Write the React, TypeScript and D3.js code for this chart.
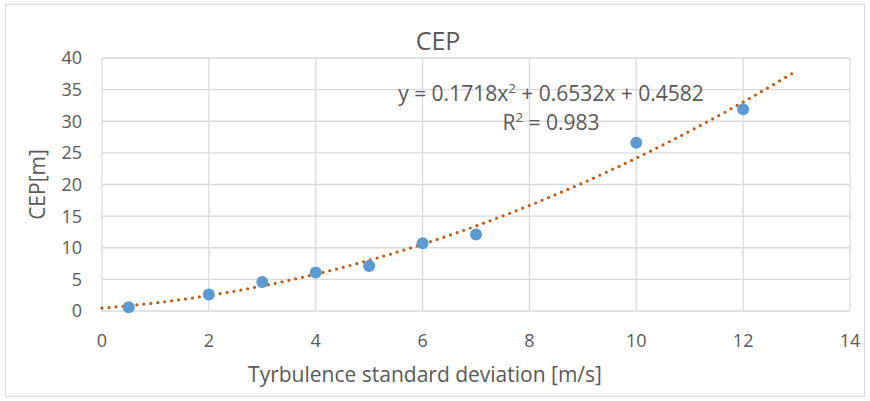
import React from "react";
import * as d3 from "d3";

const xValues = [0.5, 2, 3, 4, 5, 6, 7, 10, 12];
const yValues = [0.6, 2.6, 4.6, 6.1, 7.1, 10.7, 12.1, 26.6, 31.9];
const coeffs = [0.1718, 0.6532, 0.4582];
const xTicks = [0, 2, 4, 6, 8, 10, 12, 14];
const yTicks = [0, 5, 10, 15, 20, 25, 30, 35, 40];
const title = "CEP";
const xTitle = "Tyrbulence standard deviation [m/s]";
const yTitle = "CEP[m]";

export default function App() {
  const W = 870, H = 401;
  const left = 102, right = 850, top = 58, bottom = 311;
  const x = d3.scaleLinear().domain([0, 14]).range([left, right]);
  const y = d3.scaleLinear().domain([0, 40]).range([bottom, top]);
  const font = "'Open Sans', sans-serif";
  const txt = "#595959";
  const trendX = d3.range(0, 13.0001, 0.1);
  const line = d3.line<number>().x(d => x(d)).y(d => y(coeffs[0] * d * d + coeffs[1] * d + coeffs[2]));
  return (
    <svg width={W} height={H} style={{ position: "absolute", left: 0, top: 0 }} fontFamily={font}>
      <rect x={0} y={0} width={W} height={H} fill="#fff" />
      <rect x={5.5} y={4.5} width={859} height={392} fill="none" stroke="#d9d9d9" />
      {yTicks.map(t => (
        <line key={"gy" + t} x1={left} x2={right} y1={y(t)} y2={y(t)} stroke="#d9d9d9" strokeWidth={1.3} />
      ))}
      {xTicks.map(t => (
        <line key={"gx" + t} x1={x(t)} x2={x(t)} y1={top} y2={bottom} stroke="#d9d9d9" strokeWidth={1.3} />
      ))}
      {yTicks.map(t => (
        <text key={"ty" + t} x={82} y={y(t)} dy="0.36em" textAnchor="end" fontSize={18} fill={txt}>{t}</text>
      ))}
      {xTicks.map(t => (
        <text key={"tx" + t} x={x(t)} y={347} textAnchor="middle" fontSize={18} fill={txt}>{t}</text>
      ))}
      <text x={438} y={50} textAnchor="middle" fontSize={25} fill={txt}>{title}</text>
      <text x={425} y={382} textAnchor="middle" fontSize={21} fill={txt}>{xTitle}</text>
      <text transform={`translate(45, ${(top + bottom) / 2}) rotate(-90)`} textAnchor="middle" fontSize={21} fill={txt}>{yTitle}</text>
      <path d={line(trendX) || ""} fill="none" stroke="#C55A11" strokeWidth={3.2} strokeDasharray="0 7" strokeLinecap="round" />
      {xValues.map((v, i) => (
        <circle key={"p" + i} cx={x(v)} cy={y(yValues[i])} r={6} fill="#5B9BD5" />
      ))}
      <text x={551} y={101} textAnchor="middle" fontSize={21} fill={txt}>
        y = 0.1718x<tspan dy={-8} fontSize={13.5}>2</tspan><tspan dy={8}> + 0.6532x + 0.4582</tspan>
      </text>
      <text x={551} y={130} textAnchor="middle" fontSize={21} fill={txt}>
        R<tspan dy={-8} fontSize={13.5}>2</tspan><tspan dy={8}> = 0.983</tspan>
      </text>
    </svg>
  );
}
